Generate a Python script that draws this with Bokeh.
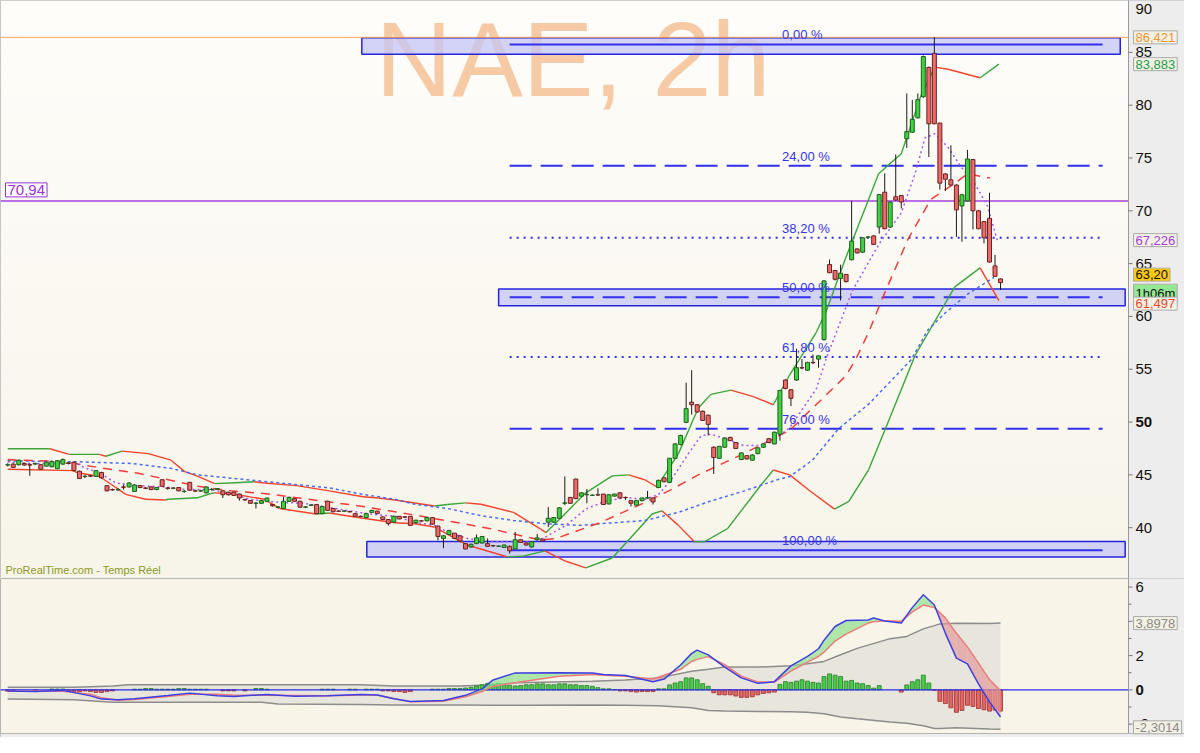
import numpy as np
from bokeh.plotting import figure
from bokeh.layouts import column
from bokeh.models import Range1d, Label
from bokeh.embed import file_html
from bokeh.resources import INLINE
from bokeh.core.properties import value

# ---------------------------------------------------------------- data
TITLE = "NAE, 2h"
SOURCE_TEXT = "ProRealTime.com - Temps Réel"

OPEN = [45.93, 46.02, 45.96, 46.08, 45.96, 46.02, 45.96, 45.83, 45.77, 45.59,
        46.02, 46.14, 46.20, 45.34, 44.85, 44.91, 44.85, 45.22, 43.98, 43.61,
        43.58, 43.86, 43.86, 43.43, 43.98, 43.76, 43.86, 43.61, 44.54, 43.75,
        43.73, 43.80, 43.43, 44.29, 43.49, 43.47, 43.30, 43.61, 43.64, 43.49,
        43.36, 43.36, 43.18, 42.66, 42.56, 42.31, 42.31, 42.50, 42.19, 41.94,
        41.82, 42.50, 42.75, 42.50, 41.94, 42.10, 42.19, 41.33, 42.50, 41.82,
        41.57, 41.56, 41.52, 41.33, 41.08, 40.96, 41.45, 41.57, 41.02, 40.77,
        40.53, 41.08, 41.02, 41.08, 40.46, 40.65, 40.65, 40.96, 40.15, 38.98,
        39.35, 39.48, 39.23, 38.49, 38.18, 38.49, 38.55, 38.49, 38.30, 38.24,
        38.12, 38.24, 37.99, 38.86, 38.55, 38.18, 38.86, 38.92, 40.52, 40.52,
        40.89, 42.31, 42.87, 44.60, 42.99, 43.12, 43.06, 43.12, 43.18, 42.25,
        42.99, 43.30, 42.87, 42.56, 42.13, 42.56, 42.81, 42.81, 43.80, 44.72,
        44.29, 46.57, 47.87, 49.97, 51.88, 51.64, 51.02, 50.65, 47.62, 46.57,
        47.62, 48.55, 48.06, 46.45, 46.82, 46.39, 47.01, 47.62, 48.42, 47.93,
        48.86, 53.98, 53.06, 53.98, 55.15, 54.91, 55.65, 55.96, 57.81, 64.91,
        64.35, 63.60, 63.98, 65.37, 66.39, 66.08, 67.50, 67.62, 68.46, 71.76,
        68.46, 71.33, 71.45, 76.82, 77.44, 78.80, 80.80, 83.58, 84.91, 78.30,
        73.49, 72.93, 72.44, 70.46, 70.93, 74.85, 70.00, 68.98, 69.29, 64.78,
        63.55]
HIGH = [46.10, 46.10, 46.45, 46.15, 46.10, 46.15, 46.00, 46.25, 46.35, 46.40,
        46.55, 46.20, 46.25, 45.40, 45.00, 45.00, 45.45, 45.30, 44.00, 43.70,
        43.75, 44.10, 44.30, 44.10, 44.05, 43.85, 43.90, 43.85, 44.60, 43.85,
        43.80, 43.85, 43.55, 44.35, 43.60, 43.60, 43.90, 43.75, 43.75, 43.55,
        43.40, 43.40, 43.25, 42.75, 42.60, 42.40, 42.60, 42.85, 42.25, 42.00,
        42.90, 42.95, 42.80, 42.55, 42.05, 42.20, 42.25, 42.05, 42.55, 41.85,
        41.65, 41.65, 41.60, 41.40, 41.15, 41.40, 41.70, 41.60, 41.05, 40.80,
        41.15, 41.10, 41.10, 41.10, 40.75, 40.70, 41.00, 41.00, 40.20, 39.30,
        39.80, 39.50, 39.30, 38.55, 38.50, 39.35, 39.20, 38.98, 38.35, 38.30,
        38.40, 38.30, 39.60, 38.90, 38.60, 38.70, 39.41, 38.95, 41.94, 41.00,
        41.95, 44.85, 42.90, 44.65, 43.35, 43.67, 43.15, 43.73, 43.20, 43.15,
        43.20, 43.35, 42.95, 42.60, 42.60, 42.85, 43.49, 42.85, 44.55, 44.75,
        46.60, 48.00, 48.80, 53.73, 54.91, 51.70, 51.10, 50.70, 47.70, 47.75,
        48.55, 48.60, 48.10, 47.15, 46.85, 46.95, 47.60, 48.00, 48.50, 49.10,
        53.05, 54.05, 53.10, 56.94, 55.96, 55.70, 56.39, 56.30, 63.45, 65.40,
        64.40, 64.90, 64.00, 70.93, 66.45, 67.50, 67.60, 67.70, 71.60, 73.55,
        70.90, 75.34, 71.50, 81.11, 80.50, 81.11, 84.70, 83.65, 86.42, 78.35,
        73.55, 76.20, 72.50, 71.60, 75.77, 74.90, 70.05, 69.00, 71.70, 65.83,
        63.60]
LOW = [45.80, 45.65, 45.90, 45.88, 44.91, 45.95, 45.50, 45.78, 45.70, 45.55,
       45.95, 46.00, 45.35, 44.60, 44.70, 44.80, 44.80, 44.65, 43.45, 43.50,
       43.50, 43.60, 43.80, 43.40, 43.75, 43.65, 43.55, 43.55, 43.85, 43.60,
       43.65, 43.45, 43.30, 43.50, 43.40, 43.40, 43.25, 43.50, 43.60, 42.81,
       43.05, 43.00, 42.56, 42.55, 42.25, 41.82, 42.25, 42.45, 42.00, 41.82,
       41.80, 42.45, 42.45, 41.90, 41.85, 42.05, 41.30, 41.30, 41.60, 41.45,
       41.50, 41.50, 41.45, 41.05, 41.00, 40.90, 41.40, 41.30, 40.75, 40.20,
       40.50, 40.80, 40.95, 40.20, 40.40, 40.60, 40.60, 40.30, 38.80, 38.06,
       39.30, 38.95, 38.65, 37.95, 38.10, 38.45, 38.50, 38.20, 38.20, 38.20,
       38.10, 37.56, 37.95, 38.55, 38.30, 38.10, 38.80, 38.70, 40.06, 40.45,
       40.85, 42.13, 42.25, 42.70, 42.90, 42.31, 43.00, 43.00, 42.15, 42.20,
       42.95, 42.75, 42.62, 42.01, 42.10, 42.50, 42.75, 42.19, 43.75, 44.30,
       44.25, 46.50, 47.80, 49.90, 50.71, 50.90, 50.10, 48.73, 45.09, 46.50,
       47.55, 48.20, 47.45, 46.40, 46.45, 46.35, 46.95, 47.55, 48.00, 47.90,
       48.24, 53.10, 51.51, 53.90, 55.00, 54.85, 55.50, 55.15, 57.70, 64.10,
       63.40, 61.51, 63.20, 65.30, 65.95, 66.00, 67.40, 66.75, 67.84, 68.25,
       68.40, 70.95, 70.22, 75.96, 77.40, 78.75, 80.70, 75.09, 78.20, 72.01,
       71.88, 72.40, 67.53, 67.07, 70.90, 68.24, 68.25, 66.91, 65.10, 63.75,
       62.50]
CLOSE = [45.96, 45.71, 46.39, 45.93, 45.93, 46.08, 45.53, 46.20, 46.27, 46.33,
         46.45, 46.08, 45.40, 44.66, 44.88, 44.88, 45.40, 44.72, 43.49, 43.58,
         43.61, 43.83, 44.23, 44.04, 43.80, 43.73, 43.61, 43.80, 43.92, 43.73,
         43.76, 43.49, 43.45, 43.55, 43.47, 43.49, 43.86, 43.63, 43.70, 43.12,
         43.12, 43.06, 42.81, 42.63, 42.31, 42.33, 42.56, 42.81, 42.07, 41.96,
         42.50, 42.87, 42.50, 41.94, 41.96, 42.16, 41.33, 42.01, 41.64, 41.51,
         41.55, 41.58, 41.50, 41.08, 41.06, 41.33, 41.64, 41.33, 40.77, 40.40,
         41.08, 40.83, 41.00, 40.22, 40.71, 40.63, 40.96, 40.34, 39.17, 39.23,
         39.72, 38.98, 38.74, 37.99, 38.43, 39.04, 39.17, 38.24, 38.28, 38.26,
         38.36, 37.81, 38.86, 38.61, 38.36, 38.67, 39.04, 38.74, 40.89, 40.96,
         41.88, 42.35, 42.31, 42.75, 43.30, 43.14, 43.08, 43.10, 42.19, 43.12,
         43.18, 42.81, 42.85, 42.31, 42.56, 42.81, 42.83, 42.44, 44.48, 44.35,
         46.57, 47.93, 48.73, 51.27, 51.64, 50.96, 50.15, 49.78, 46.64, 47.69,
         48.49, 48.24, 47.50, 47.08, 46.51, 46.88, 47.56, 47.93, 48.06, 49.04,
         52.99, 53.18, 52.25, 55.15, 55.12, 55.65, 55.62, 56.27, 63.36, 64.14,
         63.52, 64.10, 63.30, 67.13, 66.02, 67.44, 67.52, 66.82, 71.54, 68.30,
         70.83, 71.02, 70.83, 77.50, 78.67, 80.52, 84.60, 78.24, 78.24, 72.62,
         72.99, 72.44, 70.09, 71.51, 74.91, 70.00, 68.30, 67.44, 65.15, 63.80,
         63.20]

# Bollinger bands (bar number, price)
BB_UPPER_X = [0, 7.6, 11.2, 16.6, 17.8, 20.7, 25.5, 29.6, 32.1, 34.5,
              37.5, 40.4, 44.7, 46.5, 52.4, 58.3, 64.4, 67.2, 70.2, 77.4,
              79.7, 83.0, 85.8, 91.7, 96.5, 97.6, 100.7, 104.8, 109.6, 112.6,
              115.5, 117.7, 121.6, 125.2, 127.5, 131.1, 135.2, 138.8, 141.8, 146.6,
              148.4, 151.9, 157.9, 162.0, 165.6, 168.1, 170.5, 176.3, 179.7]
BB_UPPER = [47.47, 47.47, 46.94, 46.94, 46.76, 47.25, 47.01, 46.39, 45.31, 44.85,
            44.17, 44.23, 44.35, 44.23, 43.98, 43.49, 42.93, 42.81, 42.62, 42.05,
            42.20, 42.35, 42.22, 41.45, 39.91, 39.54, 41.14, 43.30, 44.91, 45.00,
            44.54, 43.86, 47.01, 51.33, 52.62, 53.02, 52.41, 51.64, 54.50, 58.50,
            60.50, 65.50, 73.50, 75.40, 80.95, 83.60, 83.40, 82.60, 83.883]
BB_LOWER_X = [0, 11.8, 12.6, 16.6, 18.4, 21.4, 25.0, 28.6, 29.1, 34.5,
              36.8, 37.5, 40.4, 46.5, 49.3, 55.9, 58.3, 64.4, 70.2, 73.8,
              77.4, 83.3, 90.5, 93.5, 97.4, 101.2, 104.8, 109.6, 115.5, 116.8,
              118.6, 121.6, 124.5, 126.3, 130.5, 136.4, 138.8, 141.8, 145.4, 149.9,
              152.5, 156.1, 159.7, 164.5, 171.7, 176.3, 179.7]
BB_LOWER = [45.53, 45.40, 45.22, 44.85, 44.23, 43.15, 42.69, 42.62, 42.69, 42.84,
            43.24, 43.30, 43.24, 42.69, 41.82, 41.30, 41.39, 40.90, 40.47, 40.37,
            40.06, 38.36, 37.25, 37.31, 37.81, 36.82, 36.20, 37.13, 40.52, 41.30,
            41.60, 40.22, 38.67, 38.67, 39.91, 43.92, 45.46, 45.00, 43.50, 41.76,
            42.50, 45.50, 50.10, 56.30, 62.80, 64.60, 61.497]

# Moving averages
MA_SHORT_X = [0, 3.5, 12.4, 14.2, 16.6, 19.6, 23.7, 28.5, 32.1, 36.8,
              40.4, 44.0, 46.4, 50.0, 53.6, 58.3, 61.9, 65.5, 70.2, 73.8,
              77.4, 79.7, 83.3, 88.1, 93.0, 95.3, 97.6, 101.2, 104.8, 108.4,
              112.0, 115.5, 118.0, 120.3, 123.4, 125.7, 127.5, 131.1, 133.4, 136.4,
              139.5, 141.8, 146.6, 148.4, 153.1, 157.9, 162.0, 164.5, 166.3, 168.1,
              170.5, 172.8, 175.3, 177.6, 179.4]
MA_SHORT = [46.24, 46.08, 46.08, 45.62, 45.22, 44.23, 43.98, 43.86, 43.61, 43.61,
            43.24, 42.69, 42.53, 42.38, 42.32, 41.91, 41.60, 41.30, 41.08, 40.52,
            40.22, 39.60, 38.98, 38.67, 38.67, 38.67, 39.14, 40.22, 41.76, 42.53,
            42.84, 42.68, 43.15, 44.54, 47.00, 48.70, 48.86, 48.24, 47.78, 47.78,
            48.55, 49.48, 53.15, 56.00, 62.40, 66.80, 69.80, 73.50, 76.90, 77.30,
            76.00, 74.20, 72.60, 70.50, 67.226]
MA_MID_X = [0, 10.7, 14.8, 19.6, 23.7, 28.6, 34.5, 40.4, 46.5, 52.4,
            58.3, 64.4, 70.2, 73.8, 87.6, 96.5, 99.4, 107.3, 115.5, 120.3,
            125.2, 133.4, 141.8, 152.0, 153.8, 156.1, 158.4, 163.3, 167.4, 171.7,
            174.0, 178.1]
MA_MID = [46.45, 46.24, 45.83, 45.46, 45.15, 44.60, 43.92, 43.49, 43.24, 42.84,
          42.44, 42.01, 41.51, 41.20, 39.90, 38.83, 38.98, 40.46, 42.38, 43.61,
          45.00, 47.00, 49.23, 54.40, 56.00, 58.50, 61.50, 67.40, 71.10, 72.60,
          73.50, 73.10]
MA_LONG_X = [0, 12.5, 22.5, 29.6, 34.5, 46.5, 58.3, 64.4, 70.2, 73.8,
             79.7, 85.8, 91.7, 97.6, 103.7, 109.6, 115.5, 121.6, 127.5, 133.4,
             139.5, 141.8, 145.9, 150.7, 156.1, 163.8, 166.8, 169.9, 174.0, 178.8]
MA_LONG = [46.33, 46.24, 46.08, 45.62, 45.00, 44.38, 43.77, 43.15, 42.69, 42.22,
           41.82, 41.14, 40.68, 40.37, 40.22, 40.46, 40.68, 41.45, 42.53, 43.46,
           44.54, 44.85, 46.40, 49.40, 51.70, 55.90, 58.70, 60.30, 62.10, 63.70]

# Fibonacci retracement and zones
FIB_HIGH = 85.75
FIB_LOW = 37.87
FIB_PCTS = [0.0, 24.0, 38.2, 50.0, 61.8, 76.0, 100.0]
FIB_TEXT = ["0,00 %", "24,00 %", "38,20 %", "50,00 %", "61,80 %", "76,00 %", "100,00 %"]
FIB_STYLE = ["solid", "dashed", "dotted", "dashed", "dotted", "dashed", "solid"]
FIB_FROM, FIB_TO, FIB_LABEL_AT = 91.0, 198.5, 140.4

ZONE_FROM = [64.2, 89.0, 65.1]
ZONE_TO = [201.7, 202.6, 202.6]
ZONE_LOW = [84.81, 61.02, 37.22]
ZONE_HIGH = [86.39, 62.59, 38.70]

HIGH_LEVEL = 86.421
PURPLE_LEVEL = 70.94
PURPLE_TEXT = "70,94"

PRICE_TICKS = [40, 45, 50, 55, 60, 65, 70, 75, 80, 85, 90]
PRICE_TICK_TEXT = ["40", "45", "50", "55", "60", "65", "70", "75", "80", "85", "90"]
MACD_TICKS = [-2, 0, 2, 4, 6]
MACD_TICK_TEXT = ["-2", "0", "2", "4", "6"]
MACD_MINOR = [-1, 1, 3, 5]
BOLD_PRICE_TICK = 50
BOLD_MACD_TICK = 0

# right-axis value tags: (text, value, text colour, fill, pixel shift up)
PRICE_TAGS = [("86,421", 86.421, "#F0943A", "#F3F0E4", 0),
              ("83,883", 83.883, "#1E9E4A", "#F3F0E4", 0),
              ("67,226", 67.226, "#A23CE6", "#F3F0E4", 0),
              ("63,20", 63.20, "#111111", "#FFC90E", 8),
              ("1h06m", 63.20, "#111111", "#94E894", -11),
              ("61,497", 61.497, "#F0452A", "#F3F0E4", -3)]
MACD_TAGS = [("3,8978", 3.8978, "#8A8A8A", "#F3F0E4", 0),
             ("-2,3014", -2.3014, "#8A8A8A", "#F3F0E4", 2)]

# MACD panel
MACD_X = [0, 5, 10, 15, 17, 20, 23, 29, 33, 38,
          41, 47, 52, 58, 64, 67, 70, 73, 79, 83,
          86, 88, 92, 100, 106, 108, 112, 117, 119, 122,
          124, 125, 127, 130, 133, 136, 139, 142, 145, 147,
          148, 150, 152, 156, 157, 159, 162, 164, 166, 168,
          170, 172, 174, 176, 178, 180]
MACD_LINE = [-0.06, -0.10, -0.03, -0.35, -0.54, -0.57, -0.52, -0.33, -0.19, -0.34,
             -0.38, -0.27, -0.37, -0.34, -0.27, -0.30, -0.52, -0.68, -0.62, -0.32,
             0.06, 0.58, 0.99, 1.00, 0.99, 0.90, 0.84, 0.47, 0.63, 1.45,
             2.13, 2.32, 2.04, 1.33, 0.70, 0.38, 0.48, 1.40, 1.96, 2.40,
             2.90, 3.70, 4.05, 4.08, 4.19, 4.02, 3.90, 4.80, 5.55, 4.95,
             3.30, 1.85, 1.52, 0.35, -0.70, -1.58]
SIGNAL_LINE = [-0.08, -0.08, -0.08, -0.25, -0.46, -0.60, -0.56, -0.38, -0.25, -0.26,
               -0.31, -0.32, -0.33, -0.35, -0.30, -0.30, -0.50, -0.70, -0.66, -0.40,
               -0.10, 0.20, 0.42, 0.80, 0.90, 0.86, 0.80, 0.63, 0.85, 1.20,
               1.66, 1.78, 1.94, 1.47, 0.80, 0.46, 0.45, 1.10, 1.62, 1.95,
               2.20, 2.85, 3.25, 3.90, 3.97, 4.03, 4.00, 4.55, 4.95, 4.80,
               4.20, 3.30, 2.51, 1.56, 0.60, -0.06]
HIST = [-0.08, -0.08, 0, 0, 0, -0.10, 0, 0, 0.05, 0.05,
        0.05, -0.10, -0.10, -0.10, -0.06, -0.10, -0.15, -0.15, -0.10, -0.06,
        0, 0, 0, 0.04, 0.04, 0.08, 0.08, 0.04, 0.04, 0.04,
        0.04, 0.08, 0.08, 0.04, 0.04, 0.04, 0.04, 0, 0, -0.06,
        -0.06, -0.06, 0, -0.06, 0, 0.08, 0.08, 0.04, 0, 0,
        0, 0, 0, 0, 0, 0, 0, 0.04, 0.04, 0.04,
        0, 0, 0.04, 0.04, 0, 0.04, 0.04, 0.04, -0.06, -0.06,
        -0.10, -0.10, -0.15, -0.10, 0, 0, 0, 0.04, 0.04, 0.04,
        0.08, 0.08, 0.08, 0.11, 0.15, 0.23, 0.30, 0.38, 0.34, 0.38,
        0.30, 0.27, 0.23, 0.25, 0.30, 0.30, 0.35, 0.35, 0.30, 0.30,
        0.35, 0.35, 0.30, 0.30, 0.25, 0.25, 0.21, 0.13, 0.06, 0.06,
        0.02, -0.06, -0.06, -0.10, -0.13, -0.10, -0.10, -0.10, 0.06, 0.06,
        0.29, 0.40, 0.48, 0.70, 0.70, 0.59, 0.36, 0.21, -0.17, -0.29,
        -0.29, -0.29, -0.36, -0.44, -0.44, -0.40, -0.29, -0.21, -0.17, -0.13,
        0.32, 0.48, 0.44, 0.51, 0.59, 0.51, 0.44, 0.40, 0.78, 0.93,
        0.86, 0.78, 0.51, 0.55, 0.40, 0.36, 0.25, 0.10, 0.25, 0,
        0, 0, -0.13, 0.29, 0.48, 0.59, 0.86, 0.40, -0.02, -0.67,
        -0.80, -1.05, -1.31, -1.20, -0.90, -0.97, -1.09, -1.16, -1.24, -1.18,
        -1.24]
BAND_X = [0, 12, 19, 22, 46, 49, 64, 70, 73, 82,
          88, 92, 106, 112, 118, 124, 127, 130, 136, 142,
          145, 148, 151, 154, 160, 163, 166, 168, 169, 172,
          178, 180]
BAND_UPPER = [0.15, 0.15, 0.22, 0.30, 0.30, 0.30, 0.30, 0.23, 0.23, 0.23,
              0.30, 0.42, 0.51, 0.57, 0.70, 1.09, 1.20, 1.33, 1.33, 1.41,
              1.52, 1.66, 2.05, 2.42, 2.99, 3.12, 3.56, 3.75, 3.85, 3.89,
              3.88, 3.8978]
BAND_LOWER = [-0.53, -0.57, -0.72, -0.72, -0.72, -0.82, -0.86, -0.88, -0.88, -0.89,
              -0.90, -0.90, -0.88, -0.90, -0.92, -1.05, -1.20, -1.23, -1.26, -1.28,
              -1.30, -1.40, -1.58, -1.68, -1.87, -1.95, -2.10, -2.25, -2.25, -2.21,
              -2.28, -2.3014]

# ---------------------------------------------------------------- layout / style
FONT = "Liberation Sans"
W, H1, H2, AXIS_W = 1184, 578, 159, 56
X0, X1 = -1.31, 203.2                      # bar range covered by the plotting area
BPX = (X1 - X0) / (W - AXIS_W)              # bars per pixel
XE = X1 + AXIS_W * BPX                      # right end including the value-axis strip
Y0, Y1 = 35.19, 89.91
M0, M1 = -2.78, 6.50
M_PX = H2 / (M1 - M0)                       # pixels per MACD unit
GREEN_LINE, RED_LINE = "#3AA53A", "#F0442C"
FIB_COLOR = "#3030EE"
AXIS_BG = "#EDEDED"

xr = Range1d(X0, XE)


def base_fig(height, yr, bg):
    p = figure(width=W, height=height, x_range=xr, y_range=Range1d(*yr),
               x_axis_location=None, y_axis_location=None,
               output_backend="svg", toolbar_location=None,
               min_border_left=0, min_border_top=0, min_border_right=0,
               min_border_bottom=0)
    p.background_fill_color = bg
    p.border_fill_color = AXIS_BG
    p.outline_line_color = "#B4B4B4"
    p.grid.visible = False
    return p


def value_axis(p, lo, hi, ticks, texts, bold_tick, px_per_unit, minor=()):
    p.quad(left=X1, right=XE + 1, bottom=lo - 5, top=hi + 5,
           fill_color=AXIS_BG, line_color=None)
    p.line([X1, X1], [lo - 5, hi + 5], line_color="#9A9A9A", line_width=1)
    p.segment(x0=[X1] * len(ticks), y0=ticks, x1=[X1 + 4 * BPX] * len(ticks), y1=ticks,
              line_color="#777777", line_width=1)
    if minor:
        p.segment(x0=[X1] * len(minor), y0=list(minor),
                  x1=[X1 + 3 * BPX] * len(minor), y1=list(minor),
                  line_color="#777777", line_width=1)
    for t, s in zip(ticks, texts):
        near_top = (hi - t) * px_per_unit < 11
        p.text(x=[X1], y=[hi if near_top else t], text=[s], x_offset=7,
               y_offset=3 if near_top else 0,
               text_baseline="top" if near_top else "middle", text_align="left",
               text_font=value(FONT), text_font_size="15px",
               text_font_style="bold" if t == bold_tick else "normal",
               text_color="#111111")


def add_tag(p, text, y, color, fill, shift):
    p.text(x=[X1], y=[y], text=[text], x_offset=5, y_offset=-shift,
           text_baseline="middle", text_align="left", text_font=value(FONT),
           text_font_size="13px", text_color=color,
           background_fill_color=fill, border_line_color="#ABABAB", padding=2)


def slope_segments(xs, ys):
    sx, sy, cols = [], [], []
    for i in range(len(xs) - 1):
        sx.append([xs[i], xs[i + 1]])
        sy.append([ys[i], ys[i + 1]])
        cols.append(GREEN_LINE if ys[i + 1] >= ys[i] else RED_LINE)
    return sx, sy, cols


# ---------------------------------------------------------------- main price panel
p1 = base_fig(H1, (Y0, Y1), "#FAF8F0")
P_PX = H1 / (Y1 - Y0)

NB = 36
edges = np.linspace(Y0, Y1, NB + 1)
top_rgb = np.array([254, 253, 250])
bot_rgb = np.array([247, 244, 233])
grad_cols = []
for k in range(NB):
    t = (k + 0.5) / NB
    r, g, b = np.round(bot_rgb + (top_rgb - bot_rgb) * t).astype(int)
    grad_cols.append(f"#{r:02x}{g:02x}{b:02x}")
p1.quad(left=X0, right=X1, bottom=edges[:-1], top=edges[1:] + 0.03,
        fill_color=grad_cols, line_color=None)

# watermark
p1.text(x=[66.7], y=[84.35], text=[TITLE], text_font=value(FONT),
        text_font_size="106px", text_color="#F7CAA6", text_baseline="alphabetic")

# zones and fibonacci lines (behind the price)
p1.quad(left=ZONE_FROM, right=ZONE_TO, bottom=ZONE_LOW, top=ZONE_HIGH,
        fill_color="#C4C5F6", fill_alpha=0.75, line_color="#2525E0", line_width=1.5)
levels = [FIB_HIGH - pct / 100.0 * (FIB_HIGH - FIB_LOW) for pct in FIB_PCTS]
dash_map = {"solid": "solid", "dashed": "22 9", "dotted": "2 5"}
for lv, st in zip(levels, FIB_STYLE):
    p1.line([FIB_FROM, FIB_TO], [lv, lv], line_color=FIB_COLOR, line_width=2,
            line_dash=dash_map[st])

# horizontal reference lines
p1.line([X0, X1], [HIGH_LEVEL, HIGH_LEVEL], line_color="#F5A65B", line_width=1)
p1.line([X0, X1], [PURPLE_LEVEL, PURPLE_LEVEL], line_color="#A63FE0", line_width=1.5)

# indicators
for xs_, ys_ in ((BB_UPPER_X, BB_UPPER), (BB_LOWER_X, BB_LOWER)):
    sx, sy, cols = slope_segments(xs_, ys_)
    p1.multi_line(xs=sx, ys=sy, line_color=cols, line_width=1.4)
p1.line(MA_LONG_X, MA_LONG, line_color="#4A6CF2", line_width=1.5, line_dash="3 3")
p1.line(MA_MID_X, MA_MID, line_color="#F03C3C", line_width=1.5, line_dash="9 7")
p1.line(MA_SHORT_X, MA_SHORT, line_color="#A855F0", line_width=1.5, line_dash="2 3")

# candles
o = np.array(OPEN)
c = np.array(CLOSE)
hi = np.array(HIGH)
lo = np.array(LOW)
bars = np.arange(len(c))
up = c >= o
p1.segment(x0=bars, y0=lo, x1=bars, y1=hi, line_color="#1A1A1A", line_width=1)
body_top = np.maximum(o, c)
body_bot = np.minimum(o, c)
p1.vbar(x=bars[up], top=body_top[up], bottom=body_bot[up], width=0.72,
        fill_color="#3ED23E", line_color="#1F5F1F", line_width=1)
p1.vbar(x=bars[~up], top=body_top[~up], bottom=body_bot[~up], width=0.72,
        fill_color="#EE6A6A", line_color="#6A2020", line_width=1)

# fibonacci texts
p1.text(x=[FIB_LABEL_AT] * len(levels), y=levels, text=FIB_TEXT,
        text_font=value(FONT), text_font_size="13px", text_color="#3535E8",
        text_baseline="bottom", y_offset=-2)

# source text
p1.text(x=[X0], y=[Y0], text=[SOURCE_TEXT], x_offset=5, y_offset=-3,
        text_font=value(FONT), text_font_size="11px", text_color="#8C9A1E",
        text_baseline="bottom")

# left value box of the purple level
p1.add_layout(Label(x=X0, y=PURPLE_LEVEL, x_offset=5, y_offset=4, text=PURPLE_TEXT,
                    text_color="#9B30D9", text_font=FONT, text_font_size="15px",
                    text_baseline="bottom", text_align="left",
                    background_fill_color="#FFFFFF", border_line_color="#9B30D9",
                    padding=2))

value_axis(p1, Y0, Y1, PRICE_TICKS, PRICE_TICK_TEXT, BOLD_PRICE_TICK, P_PX)
for t, v, col, fill, sh in PRICE_TAGS:
    add_tag(p1, t, v, col, fill, sh)

# ---------------------------------------------------------------- MACD panel
p2 = base_fig(H2, (M0, M1), "#F8F5E8")

p2.varea(x=BAND_X, y1=BAND_LOWER, y2=BAND_UPPER, fill_color="#E3E0D8", fill_alpha=0.75)
p2.line(BAND_X, BAND_UPPER, line_color="#8C8C8C", line_width=1.5)
p2.line(BAND_X, BAND_LOWER, line_color="#8C8C8C", line_width=1.5)

hv = np.array(HIST, dtype=float)
hb = np.arange(len(hv))
pos = hv > 0
neg = hv < 0
p2.vbar(x=hb[pos], top=hv[pos], bottom=0, width=0.72,
        fill_color="#46CC46", line_color="#2A7A2A", line_width=0.8)
p2.vbar(x=hb[neg], top=0, bottom=hv[neg], width=0.72,
        fill_color="#E26464", line_color="#9A2E2E", line_width=0.8)

p2.line([X0, X1], [0, 0], line_color="#2B2BE8", line_width=1.2)

fx, fy, fc = [], [], []
for i in range(len(MACD_X) - 1):
    fx.append([MACD_X[i], MACD_X[i + 1], MACD_X[i + 1], MACD_X[i]])
    fy.append([MACD_LINE[i], MACD_LINE[i + 1], SIGNAL_LINE[i + 1], SIGNAL_LINE[i]])
    diff = (MACD_LINE[i] + MACD_LINE[i + 1]) - (SIGNAL_LINE[i] + SIGNAL_LINE[i + 1])
    fc.append("#8EE08E" if diff >= 0 else "#E49A9A")
p2.patches(xs=fx, ys=fy, fill_color=fc, fill_alpha=0.7, line_color=None)
p2.line(MACD_X, SIGNAL_LINE, line_color="#EC7C7C", line_width=1.5)
p2.line(MACD_X, MACD_LINE, line_color="#3F3FE4", line_width=1.5)

value_axis(p2, M0, M1, MACD_TICKS, MACD_TICK_TEXT, BOLD_MACD_TICK, M_PX, MACD_MINOR)

# bottom strip below the panel
strip_top = M0 + 4 / M_PX
p2.quad(left=X0, right=XE + 1, bottom=M0 - 1, top=strip_top,
        fill_color=AXIS_BG, line_color=None)
p2.line([X0, XE + 1], [strip_top, strip_top], line_color="#B4B4B4", line_width=1)

for t, v, col, fill, sh in MACD_TAGS:
    add_tag(p2, t, v, col, fill, sh)

layout = column(p1, p2, spacing=0)
open("out.html", "w").write(file_html(layout, INLINE, title=TITLE))
